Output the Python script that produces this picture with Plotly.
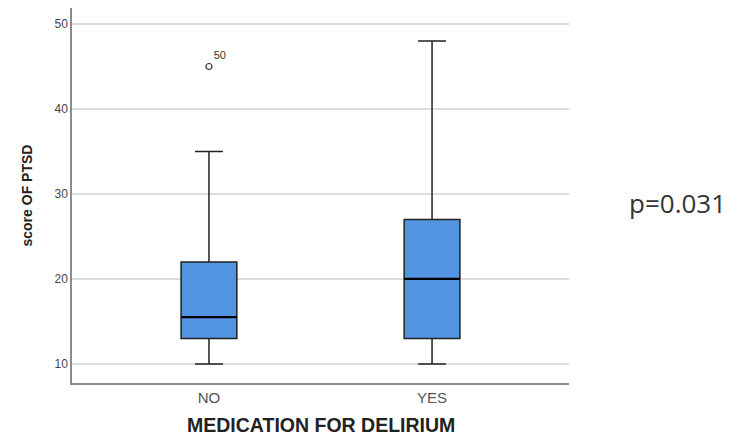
import plotly.graph_objects as go

categories = ["NO", "YES"]
lower_whisker = [10, 10]
q1 = [13, 13]
median = [15.5, 20]
q3 = [22, 27]
upper_whisker = [35, 48]
outlier_group = ["NO"]
outlier_value = [45]
outlier_case = ["50"]
p_text = "p=0.031"

BOX_W = 0.25
xpos = list(range(len(categories)))

fig = go.Figure()
fig.add_trace(go.Box(
    x=xpos, q1=q1, median=median, q3=q3,
    lowerfence=lower_whisker, upperfence=upper_whisker,
    width=BOX_W, whiskerwidth=0.5,
    fillcolor="#5294e2",
    line=dict(color="#222222", width=1.5),
    boxpoints=False, showlegend=False, hoverinfo="skip",
))
# thicker median lines
for i, m in zip(xpos, median):
    fig.add_trace(go.Scatter(
        x=[i - BOX_W / 2, i + BOX_W / 2], y=[m, m], mode="lines",
        line=dict(color="#000000", width=2.2), showlegend=False, hoverinfo="skip",
    ))
# outliers
fig.add_trace(go.Scatter(
    x=[categories.index(g) for g in outlier_group], y=outlier_value,
    mode="markers+text", text=outlier_case, textposition="top right",
    textfont=dict(family="Liberation Sans, Arial", size=11, color="#333333"),
    marker=dict(symbol="circle-open", size=6, color="#333333", line=dict(width=1.2)),
    showlegend=False, hoverinfo="skip",
))

fig.update_layout(
    width=731, height=437,
    margin=dict(l=64, r=170, t=0, b=62),
    paper_bgcolor="white", plot_bgcolor="white",
    font=dict(family="Liberation Sans, Arial, sans-serif"),
    xaxis=dict(
        range=[-0.614, 1.614], tickvals=xpos, ticktext=categories, automargin=False,
        showgrid=False, zeroline=False, showline=True, linecolor="#8c8c8c", linewidth=1.5,
        ticks="", tickfont=dict(size=15, color="#555555"),
    ),
    yaxis=dict(
        range=[7.76, 51.88], tickvals=[10, 20, 30, 40, 50], automargin=False,
        showgrid=True, gridcolor="#dcdcdc", gridwidth=1.5, zeroline=False,
        showline=True, linecolor="#8c8c8c", linewidth=1.5,
        ticks="", tickfont=dict(size=12, color="#444444"),
    ),
    annotations=[
        dict(text="<b>MEDICATION FOR DELIRIUM</b>", xref="paper", yref="paper",
             x=0.5, y=0, yshift=-42, xshift=0, xanchor="center", yanchor="middle",
             showarrow=False, font=dict(size=19.5, color="#222222")),
        dict(text="<b>score OF PTSD</b>", xref="paper", yref="paper",
             x=0, y=0.5, xshift=-46, xanchor="center", yanchor="middle", textangle=-90,
             showarrow=False, font=dict(size=14, color="#222222")),
        dict(text=p_text, xref="paper", yref="paper", x=1.219, y=0.48,
             xanchor="center", yanchor="middle", showarrow=False,
             font=dict(family="Open Sans, Noto Sans", size=26, color="#333333")),
    ],
)

fig.write_html("out.html")
